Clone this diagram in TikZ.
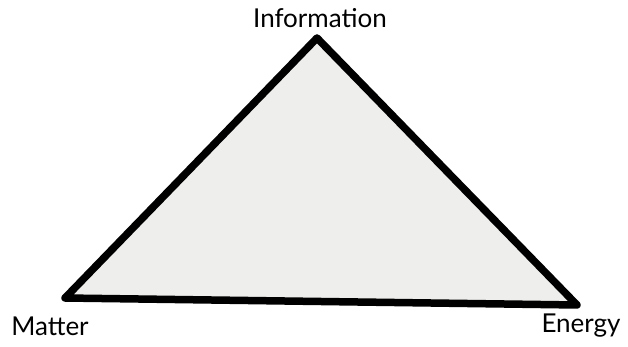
\documentclass[tikz,border=0pt]{standalone}
\usepackage{fontspec}
\setmainfont{Lato}
\definecolor{trifill}{HTML}{EEEEEC}
\begin{document}
\begin{tikzpicture}[x=1pt,y=1pt,
  lbl/.style={font=\fontsize{26}{30}\selectfont, text=black, inner sep=0pt},
  edge/.style={line width=7.5pt, line join=round, line cap=round, black}]
\useasboundingbox (0,0) rectangle (628,347);
\coordinate (top) at (317,309);
\coordinate (left) at (65,49);
\coordinate (right) at (577,42);
\filldraw[edge, fill=trifill] (top) -- (right) -- (left) -- cycle;
\node[lbl] (info) at (320,329) {Information};
\node[lbl] (matter) at (50,21) {Matter};
\node[lbl] (energy) at (581,21) {Energy};
\end{tikzpicture}
\end{document}
